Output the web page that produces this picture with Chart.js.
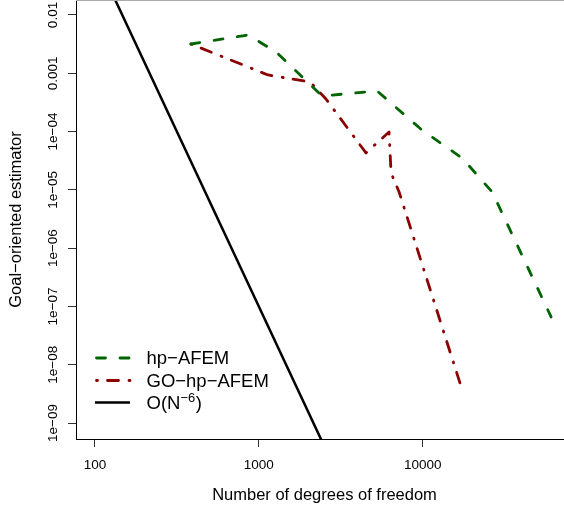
<!DOCTYPE html>
<html><head><meta charset="utf-8">
<script src="https://cdn.jsdelivr.net/npm/chart.js@4.4.1/dist/chart.umd.min.js"></script>
<style>html,body{margin:0;padding:0;overflow:hidden;background:#fff}
#wrap{position:absolute;left:0;top:0;width:573px;height:512px}</style>
</head><body><div id="wrap"><canvas id="c"></canvas></div>
<script>
// ---- data ----
const hpDofs = [385, 859, 1274, 2432, 5273, 9904, 17400, 26550, 60800];
const hpEst  = [3.18e-3, 4.54e-3, 2.32e-3, 4.08e-4, 4.97e-4, 1.06e-4, 3.52e-5, 9.2e-6, 6.6e-8];
const goDofs = [385, 1138, 2055, 2570, 4508, 6234, 6415, 7180, 17660];
const goEst  = [3.18e-3, 9.35e-4, 7.10e-4, 3.62e-4, 4.30e-5, 9.85e-5, 1.95e-5, 9.2e-6, 3.28e-9];
const refDofs = [100, 3000];
const refEst  = [0.1, 1.37e-10];
const seriesNames = ['hp\u2212AFEM', 'GO\u2212hp\u2212AFEM', 'O(N'];
const refExponent = '\u22126';
const xTickValues = [100, 1000, 10000];
const xTickLabels = ['100', '1000', '10000'];
const yTickValues = [1e-9, 1e-8, 1e-7, 1e-6, 1e-5, 1e-4, 1e-3, 1e-2];
const yTickLabels = ['1e\u221209', '1e\u221208', '1e\u221207', '1e\u221206', '1e\u221205', '1e\u221204', '0.001', '0.01'];
const xTitle = 'Number of degrees of freedom';
const yTitle = 'Goal\u2212oriented estimator';

const FONT = '"Liberation Sans", Arial, Helvetica, sans-serif';
const GREEN = '#006400', RED = '#8B0000', BLACK = '#000000';
const DASH_HP = [9, 14.5], DASH_GO = [1, 10, 11, 10.5];

const pts = (xs, ys) => xs.map((x, i) => ({x: x, y: ys[i]}));

const overlay = {
  id: 'overlay',
  afterDraw(chart) {
    const ctx = chart.ctx, ca = chart.chartArea, ys = chart.scales.y;
    ctx.save();
    // top frame edge (partially visible in the reference)
    ctx.fillStyle = '#aaaaaa';
    ctx.fillRect(ca.left, ca.top, ca.right - ca.left, 1);
    // rotated y tick labels
    ctx.fillStyle = '#000';
    ctx.font = '13.5px ' + FONT;
    ctx.textAlign = 'center';
    ctx.textBaseline = 'alphabetic';
    yTickValues.forEach((v, i) => {
      const py = ys.getPixelForValue(v);
      ctx.save();
      ctx.translate(57, py);
      ctx.rotate(-Math.PI / 2);
      ctx.fillText(yTickLabels[i], 0, 0);
      ctx.restore();
    });
    // legend
    const rows = [
      {y: 358, color: GREEN, dash: DASH_HP},
      {y: 380.5, color: RED, dash: DASH_GO},
      {y: 402.5, color: BLACK, dash: []}
    ];
    rows.forEach((r, i) => {
      ctx.save();
      ctx.strokeStyle = r.color;
      ctx.lineWidth = i === 2 ? 2.5 : 2.8;
      ctx.lineCap = i === 2 ? 'butt' : 'round';
      ctx.setLineDash(r.dash);
      ctx.beginPath();
      ctx.moveTo(i === 2 ? 95 : 96.5, r.y);
      ctx.lineTo(130, r.y);
      ctx.stroke();
      ctx.restore();
      ctx.fillStyle = '#000';
      ctx.font = '18.5px ' + FONT;
      ctx.textAlign = 'left';
      ctx.textBaseline = 'alphabetic';
      ctx.fillText(seriesNames[i], 146.5, r.y + 6);
      if (i === 2) {
        const w = ctx.measureText(seriesNames[i]).width;
        ctx.font = '13px ' + FONT;
        ctx.fillText(refExponent, 146.5 + w, r.y - 1);
        const w2 = ctx.measureText(refExponent).width;
        ctx.font = '18.5px ' + FONT;
        ctx.fillText(')', 146.5 + w + w2 + 0.5, r.y + 6);
      }
    });
    ctx.restore();
  }
};

new Chart(document.getElementById('c'), {
  type: 'line',
  data: {
    datasets: [
      {label: seriesNames[0], data: pts(hpDofs, hpEst), borderColor: GREEN, borderWidth: 2.8,
       borderDash: DASH_HP, borderCapStyle: 'round', borderJoinStyle: 'round', pointRadius: 0, tension: 0, fill: false},
      {label: seriesNames[1], data: pts(goDofs, goEst), borderColor: RED, borderWidth: 2.8,
       borderDash: DASH_GO, borderCapStyle: 'round', borderJoinStyle: 'round', pointRadius: 0, tension: 0, fill: false},
      {label: 'O(N^-6)', data: pts(refDofs, refEst), borderColor: BLACK, borderWidth: 2.5,
       pointRadius: 0, tension: 0, fill: false, clip: 0}
    ]
  },
  options: {
    responsive: true,
    maintainAspectRatio: false,
    animation: false,
    events: [],
    layout: {padding: 0},
    plugins: {legend: {display: false}, tooltip: {enabled: false}, title: {display: false}},
    scales: {
      x: {
        type: 'logarithmic',
        position: 'bottom',
        bounds: 'data',
        min: 76.6,
        max: 82700,
        afterBuildTicks: s => { s.ticks = xTickValues.map(v => ({value: v})); },
        afterFit: s => { s.height = 73; },
        ticks: {
          autoSkip: false, maxRotation: 0, minRotation: 0, padding: 10,
          color: '#000', font: {family: FONT, size: 13.5},
          callback: (v) => xTickLabels[xTickValues.indexOf(v)] ?? ''
        },
        grid: {drawOnChartArea: false, drawTicks: true, tickLength: 8, color: '#333', lineWidth: 1},
        border: {display: true, color: '#000', width: 1},
        title: {display: true, text: xTitle, color: '#000', font: {family: FONT, size: 16.5},
                padding: {top: 0, bottom: 7}}
      },
      y: {
        type: 'logarithmic',
        position: 'left',
        bounds: 'data',
        min: 5.315e-10,
        max: 0.01808,
        afterBuildTicks: s => { s.ticks = yTickValues.map(v => ({value: v})); },
        afterFit: s => { s.width = 76; },
        ticks: {display: false},
        grid: {drawOnChartArea: false, drawTicks: true, tickLength: 8, color: '#333', lineWidth: 1},
        border: {display: true, color: '#000', width: 1},
        title: {display: true, text: yTitle, color: '#000', font: {family: FONT, size: 16.5},
                padding: {top: 7, bottom: 0}}
      }
    }
  },
  plugins: [overlay]
});
</script></body></html>
